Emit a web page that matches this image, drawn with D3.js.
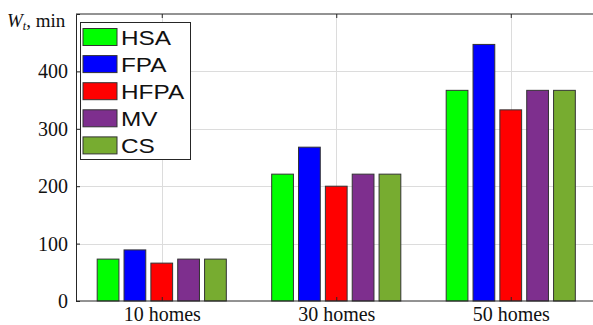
<!DOCTYPE html>
<html>
<head>
<meta charset="utf-8">
<script src="https://cdn.jsdelivr.net/npm/d3@7"></script>
<style>
  body { margin: 0; background: #fff; }
  svg { display: block; }
</style>
</head>
<body>
<svg id="chart" width="593" height="325"></svg>
<script>
// data
const groups = ["10 homes", "30 homes", "50 homes"];
const methods = ["HSA", "FPA", "HFPA", "MV", "CS"];
const colors = ["#00ff00", "#0000ff", "#ff0000", "#7e2f8e", "#77ac30"];
const HSA = [73, 221, 367];
const FPA = [89, 268, 447];
const HFPA = [66, 200, 333];
const MV = [73, 221, 367];
const CS = [73, 221, 367];
const yTicks = [0, 100, 200, 300, 400];

const series = [HSA, FPA, HFPA, MV, CS];

const serif = "'Liberation Serif', 'Times New Roman', Tinos, Times, serif";
const sans = "'Liberation Sans', Arial, Helvetica, sans-serif";

const margin = { left: 76, top: 14, right: 598, bottom: 301 };
const svg = d3.select("#chart");

// x positions like matlab bar(): xlim roughly [0.5, 3.5], right edge cropped
const x = d3.scaleLinear().domain([0.5, 3.5]).range([74.5, margin.right]);
const y = d3.scaleLinear().domain([0, 500]).range([margin.bottom, margin.top]);
const groupW = 0.74;
const sub = d3.scaleBand().domain(methods).range([-groupW / 2, groupW / 2]).paddingInner(0.19);

// grid
const grid = svg.append("g").attr("stroke", "#dcdcdc").attr("stroke-width", 1);
yTicks.slice(1).forEach(t => {
  grid.append("line").attr("x1", margin.left).attr("x2", margin.right)
    .attr("y1", Math.round(y(t)) + 0.5).attr("y2", Math.round(y(t)) + 0.5);
});
groups.forEach((g, i) => {
  grid.append("line").attr("y1", margin.top).attr("y2", margin.bottom)
    .attr("x1", Math.round(x(i + 1)) + 0.5).attr("x2", Math.round(x(i + 1)) + 0.5);
});

// bars
series.forEach((vals, j) => {
  svg.append("g").selectAll("rect").data(vals).join("rect")
    .attr("x", (d, i) => x(i + 1 + sub(methods[j])))
    .attr("width", x(sub.bandwidth()) - x(0))
    .attr("y", d => y(d))
    .attr("height", d => y(0) - y(d))
    .attr("fill", colors[j])
    .attr("stroke", "#333")
    .attr("stroke-width", 1);
});

// axes (box with inward ticks)
const axisCol = "#262626";
const axLeft = svg.append("g").attr("transform", `translate(${margin.left},0)`)
  .call(d3.axisLeft(y).tickValues(yTicks).tickSize(-4).tickPadding(8));
const axBottom = svg.append("g").attr("transform", `translate(0,${margin.bottom})`)
  .call(d3.axisBottom(x).tickValues([1, 2, 3]).tickFormat(d => groups[d - 1]).tickSize(-4).tickPadding(7));
const axTop = svg.append("g").attr("transform", `translate(0,${margin.top})`)
  .call(d3.axisTop(x).tickValues([1, 2, 3]).tickFormat("").tickSize(-4));
const axRight = svg.append("g").attr("transform", `translate(${margin.right},0)`)
  .call(d3.axisRight(y).tickValues(yTicks).tickFormat("").tickSize(-4));

// domain paths span the whole box
axBottom.select(".domain").attr("d", `M${margin.left},0H${margin.right}`);
axTop.select(".domain").attr("d", `M${margin.left},0H${margin.right}`);

[axLeft, axBottom, axTop, axRight].forEach(a => {
  a.attr("font-family", null).attr("font-size", null);
  a.selectAll("path").attr("stroke", axisCol);
  a.selectAll("line").attr("stroke", axisCol);
  a.selectAll("text").attr("fill", "#111")
    .attr("font-family", serif)
    .attr("font-size", 20);
});
axBottom.selectAll("text").attr("dy", "0.66em");

// y label
svg.append("text").attr("x", 7).attr("y", 27)
  .attr("font-family", serif)
  .attr("font-size", 19).attr("fill", "#111")
  .call(t => {
    t.append("tspan").attr("font-style", "italic").text("W");
    t.append("tspan").attr("font-style", "italic").attr("font-size", 12).attr("dy", 3).text("t");
    t.append("tspan").attr("dy", -3).text(", min");
  });

// legend
const lg = svg.append("g").attr("transform", "translate(80.5,22.5)");
lg.append("rect").attr("width", 110).attr("height", 137)
  .attr("fill", "#fff").attr("stroke", axisCol).attr("stroke-width", 1);
methods.forEach((m, j) => {
  const row = lg.append("g").attr("transform", `translate(2.5,${6 + j * 27.1})`);
  row.append("rect").attr("width", 34).attr("height", 17)
    .attr("fill", colors[j]).attr("stroke", "#333");
  // legend text in the reference is a bit wider than plain Arial
  row.append("text").attr("transform", "translate(38,16) scale(1.16,1)")
    .attr("font-family", sans)
    .attr("font-size", 21).attr("fill", "#111").text(m);
});
</script>
</body>
</html>
